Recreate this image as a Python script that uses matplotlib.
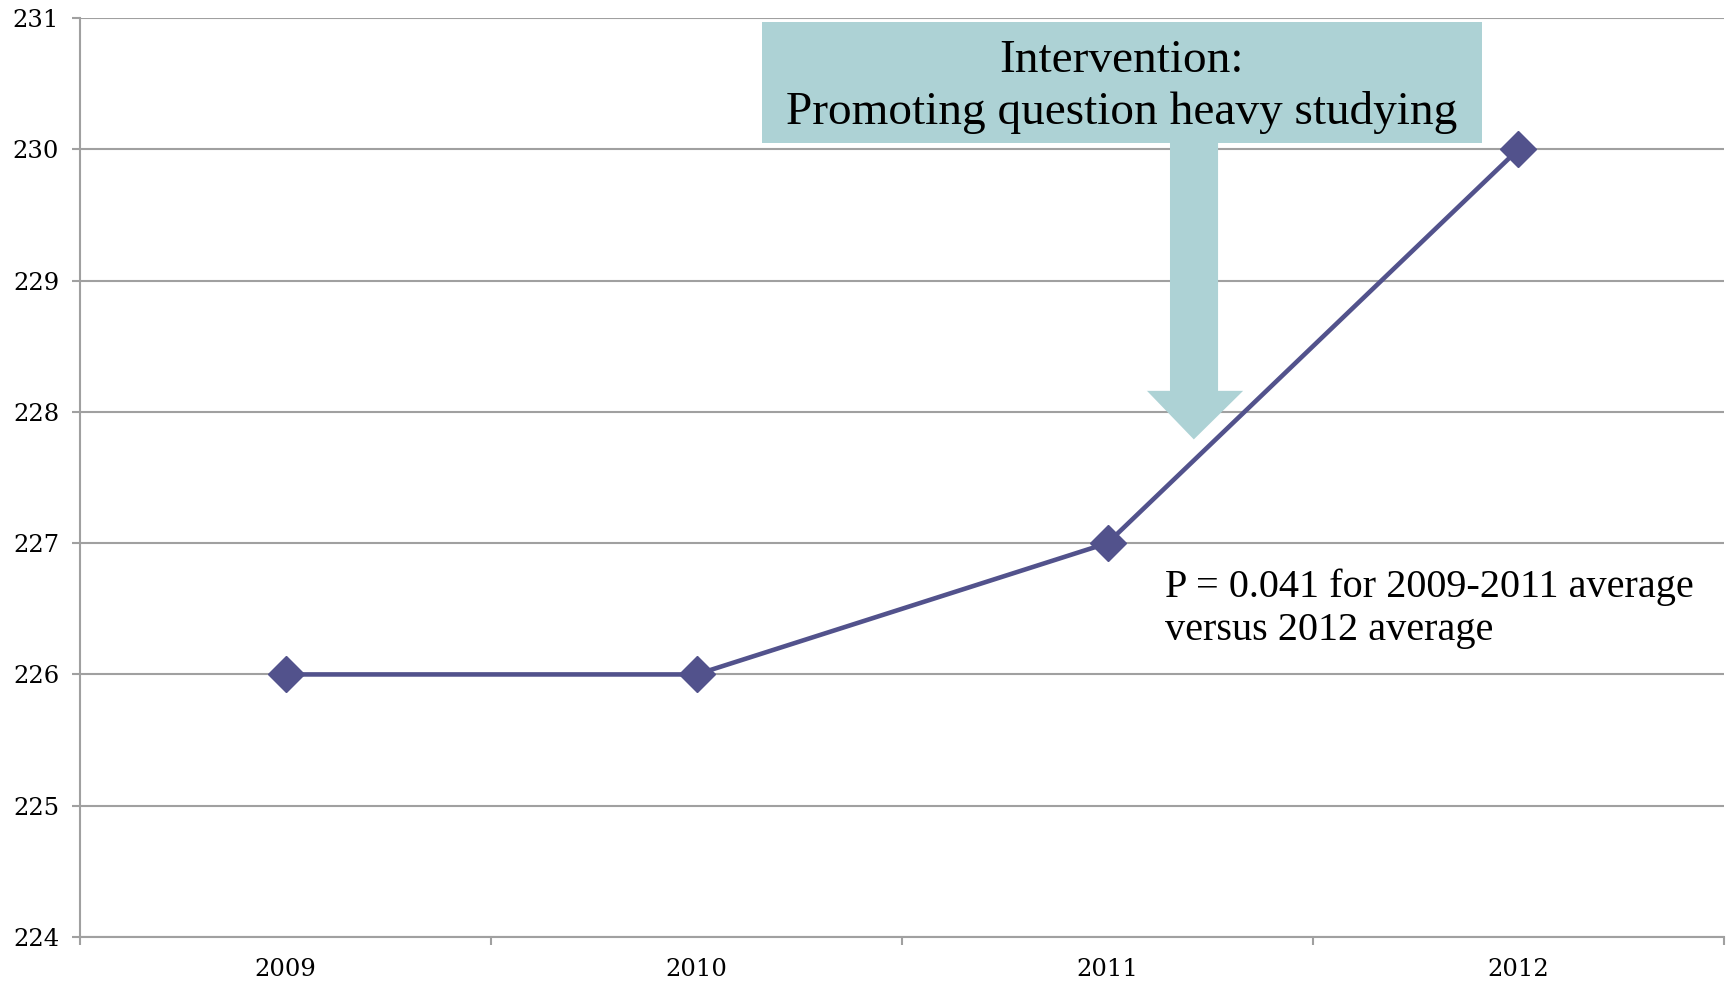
import matplotlib
matplotlib.use("Agg")
import matplotlib.pyplot as plt
from matplotlib.patches import Rectangle, Polygon

## --data
years = ["2009", "2010", "2011", "2012"]
scores = [226, 226, 227, 230]
yticks = [224, 225, 226, 227, 228, 229, 230, 231]

box_text = "Intervention:\nPromoting question heavy studying"
p_text = "P = 0.041 for 2009-2011 average\nversus 2012 average"

line_col = "#52528c"
grid_col = "#a0a0a0"
box_col = "#add2d5"

## --figure
fig = plt.figure(figsize=(17.29, 9.82), dpi=100)
ax = fig.add_axes([0.0463, 0.0458, 0.9508, 0.9359])

xpos = [i + 0.5 for i in range(len(years))]
ax.plot(xpos, scores, color=line_col, lw=3.3, marker="D", ms=18,
        mfc=line_col, mec=line_col, zorder=5, clip_on=False)

ax.set_xlim(0, len(years))
ax.set_ylim(yticks[0], yticks[-1])

# grid + axes
ax.set_yticks(yticks)
ax.set_yticklabels([str(v) for v in yticks], family="DejaVu Serif", fontsize=17.5)
ax.yaxis.grid(True, color=grid_col, lw=1.5, zorder=0)
ax.set_axisbelow(True)
ax.set_xticks(range(len(years) + 1))
ax.set_xticklabels([])
ax.set_xticks(xpos, minor=True)
ax.set_xticklabels(years, minor=True, family="DejaVu Serif", fontsize=17.5)
ax.tick_params(axis="x", which="major", length=6, width=1.5, color=grid_col, direction="out")
ax.tick_params(axis="x", which="minor", length=0, pad=15)
ax.tick_params(axis="y", length=6, width=1.5, color=grid_col, pad=9)
for s in ["top", "right"]:
    ax.spines[s].set_visible(False)
for s in ["left", "bottom"]:
    ax.spines[s].set_color(grid_col)
    ax.spines[s].set_linewidth(1.5)

## --intervention box + arrow
ax.add_patch(Rectangle((1.659, 230.05), 1.752, 0.92, facecolor=box_col,
                       edgecolor="none", zorder=3, clip_on=False))
arrow = [(2.652, 230.05), (2.769, 230.05), (2.769, 228.16), (2.830, 228.16),
         (2.71, 227.79), (2.596, 228.16), (2.652, 228.16)]
ax.add_patch(Polygon(arrow, closed=True, facecolor=box_col, edgecolor="none", zorder=3))
ax.text(2.535, 230.475, box_text, ha="center", va="center", fontsize=34,
        family="Liberation Serif", linespacing=1.27, zorder=4)

ax.text(2.64, 226.5, p_text, ha="left", va="center", fontsize=29,
        family="Liberation Serif", linespacing=1.2, zorder=4)

plt.savefig("out.png", dpi=100)
